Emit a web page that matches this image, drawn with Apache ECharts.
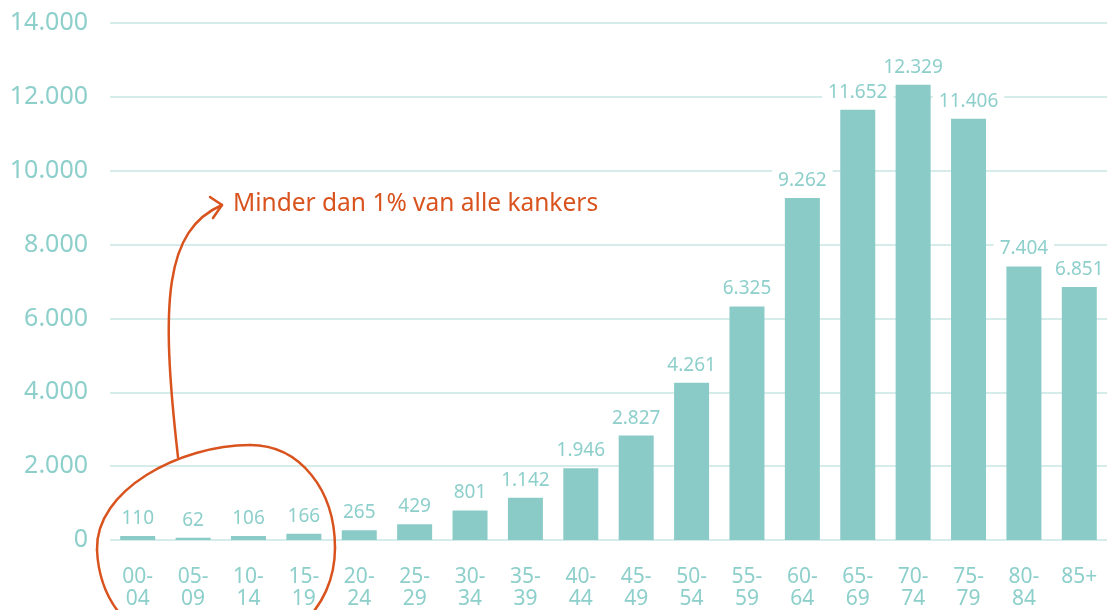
<!DOCTYPE html>
<html>
<head>
<meta charset="utf-8">
<script src="https://cdn.jsdelivr.net/npm/echarts@6/dist/echarts.min.js"></script>
<style>
  html, body { margin: 0; padding: 0; background: #fff; }
  #main { width: 1110px; height: 610px; }
</style>
</head>
<body>
<div id="main"></div>
<script>
// leeftijdsgroepen en aantal nieuwe kankers
var categories = ['00-04', '05-09', '10-14', '15-19', '20-24', '25-29', '30-34', '35-39', '40-44',
  '45-49', '50-54', '55-59', '60-64', '65-69', '70-74', '75-79', '80-84', '85+'];
var values = [110, 62, 106, 166, 265, 429, 801, 1142, 1946, 2827, 4261, 6325, 9262, 11652, 12329, 11406, 7404, 6851];
var yTicks = [0, 2000, 4000, 6000, 8000, 10000, 12000, 14000];
var note = 'Minder dan 1% van alle kankers';

var teal = '#8acbc8';
var tealText = '#8dcfcb';
var red = '#d9531e';

function dots(v) {
  return String(v).replace(/\B(?=(\d{3})+(?!\d))/g, '.');
}

// handgetekende lus + pijl (annotatie)
var pen = { fill: 'none', stroke: red, lineWidth: 2.5, lineCap: 'round', lineJoin: 'round' };
function curve(x1, y1, cx1, cy1, cx2, cy2, x2, y2) {
  return {
    type: 'bezierCurve', z: 100,
    shape: { x1: x1, y1: y1, cpx1: cx1, cpy1: cy1, cpx2: cx2, cpy2: cy2, x2: x2, y2: y2 },
    style: pen
  };
}

var myChart = echarts.init(document.getElementById('main'));
myChart.setOption({
  animation: false,
  grid: { left: 110, right: 3, top: 23, bottom: 69, containLabel: false },
  xAxis: {
    type: 'category',
    data: categories,
    axisLine: { show: false },
    axisTick: { show: false },
    axisLabel: {
      color: tealText,
      fontFamily: 'Noto Sans',
      fontSize: 21,
      lineHeight: 22,
      margin: 26,
      formatter: function (v) {
        return v.indexOf('-') > 0 ? v.replace('-', '-\n') : v;
      }
    }
  },
  yAxis: {
    type: 'value',
    min: yTicks[0],
    max: yTicks[yTicks.length - 1],
    interval: yTicks[1] - yTicks[0],
    axisLine: { show: false },
    axisTick: { show: false },
    splitLine: { lineStyle: { color: '#d6ecea', width: 2 } },
    axisLabel: {
      color: tealText,
      fontFamily: 'Noto Sans',
      fontSize: 25,
      margin: 22,
      formatter: function (v) { return dots(v); }
    }
  },
  series: [{
    type: 'bar',
    data: values,
    barWidth: 35,
    itemStyle: { color: teal },
    label: {
      show: true,
      position: 'top',
      distance: 7,
      color: tealText,
      fontFamily: 'Noto Sans',
      fontSize: 19,
      backgroundColor: '#fff',
      padding: [1, 6],
      formatter: function (p) { return dots(p.value); }
    }
  }],
  graphic: [
    curve(250, 445, 300, 445, 335, 490, 335, 548),
    curve(335, 548, 335, 610, 285, 655, 215, 655),
    curve(215, 655, 150, 655, 100, 615, 97, 550),
    curve(97, 550, 95, 490, 180, 445, 250, 445),
    curve(178, 457, 160, 300, 165, 230, 222, 205),
    {
      type: 'polyline', z: 100,
      shape: { points: [[210, 197], [222, 205], [213, 218]] },
      style: pen
    },
    {
      type: 'text',
      z: 100,
      left: 233,
      top: 192,
      style: {
        text: note,
        fill: red,
        font: '24.5px "Noto Sans"'
      }
    }
  ]
});
</script>
</body>
</html>
